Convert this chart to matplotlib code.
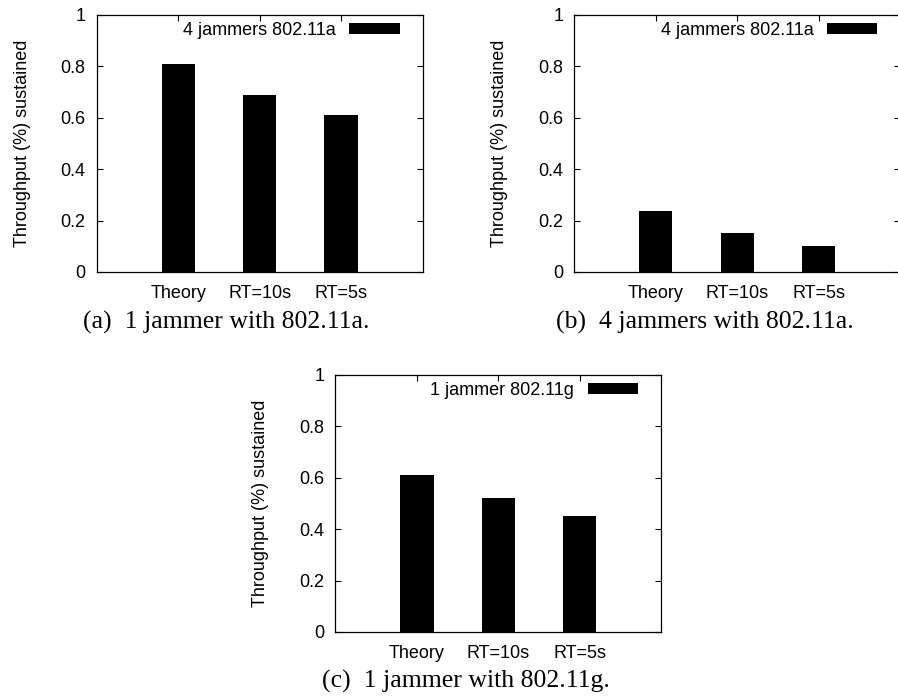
import matplotlib
matplotlib.use('Agg')
import matplotlib.pyplot as plt

plt.rcParams['font.family'] = 'Liberation Sans'
plt.rcParams['font.size'] = 13

# data
cats = ['Theory', 'RT=10s', 'RT=5s']
vals_a = [0.81, 0.69, 0.61]
vals_b = [0.236, 0.15, 0.10]
vals_c = [0.61, 0.52, 0.45]
legend_a = '4 jammers 802.11a'
legend_b = '4 jammers 802.11a'
legend_c = '1 jammer 802.11g'
caption_a = '(a)  1 jammer with 802.11a.'
caption_b = '(b)  4 jammers with 802.11a.'
caption_c = '(c)  1 jammer with 802.11g.'
yticks = [0, 0.2, 0.4, 0.6, 0.8, 1]
ytick_labels = ['0', '0.2', '0.4', '0.6', '0.8', '1']

fig = plt.figure(figsize=(8.98, 6.97), dpi=100)

def panel(rect, vals, leg):
    ax = fig.add_axes(rect)
    x = range(len(cats))
    ax.bar(x, vals, width=0.41, color='black', label=leg)
    ax.set_xlim(-1, 3)
    ax.set_ylim(0, 1)
    ax.set_xticks(list(x))
    ax.set_xticklabels(cats)
    ax.set_yticks(yticks)
    ax.set_yticklabels(ytick_labels)
    ax.tick_params(direction='in', length=4, width=0.8, top=True, right=True)
    ax.tick_params(axis='y', pad=8)
    ax.tick_params(axis='x', pad=9.5)
    for s in ax.spines.values():
        s.set_linewidth(0.9)
    ax.set_ylabel('Throughput (%) sustained')
    ax.yaxis.set_label_coords(-0.203, 0.5)
    ax.legend(loc='upper right', bbox_to_anchor=(0.93, 0.972), frameon=False,
              markerfirst=False, borderpad=0, borderaxespad=0,
              handlelength=2.8, handleheight=0.55, handletextpad=0.75)
    return ax

panel([0.1077, 0.6098, 0.3630, 0.3687], vals_a, legend_a)
panel([0.6395, 0.6098, 0.3630, 0.3687], vals_b, legend_b)
panel([0.3734, 0.0933, 0.3630, 0.3687], vals_c, legend_c)

cap = dict(family='Liberation Serif', fontsize=18.5, ha='center', va='center')
fig.text(226.7 / 898, 1 - 322 / 697, caption_a, **cap)
fig.text(705 / 898, 1 - 322 / 697, caption_b, **cap)
fig.text(466 / 898, 1 - 681.7 / 697, caption_c, **cap)

fig.savefig('out.png', dpi=100)
